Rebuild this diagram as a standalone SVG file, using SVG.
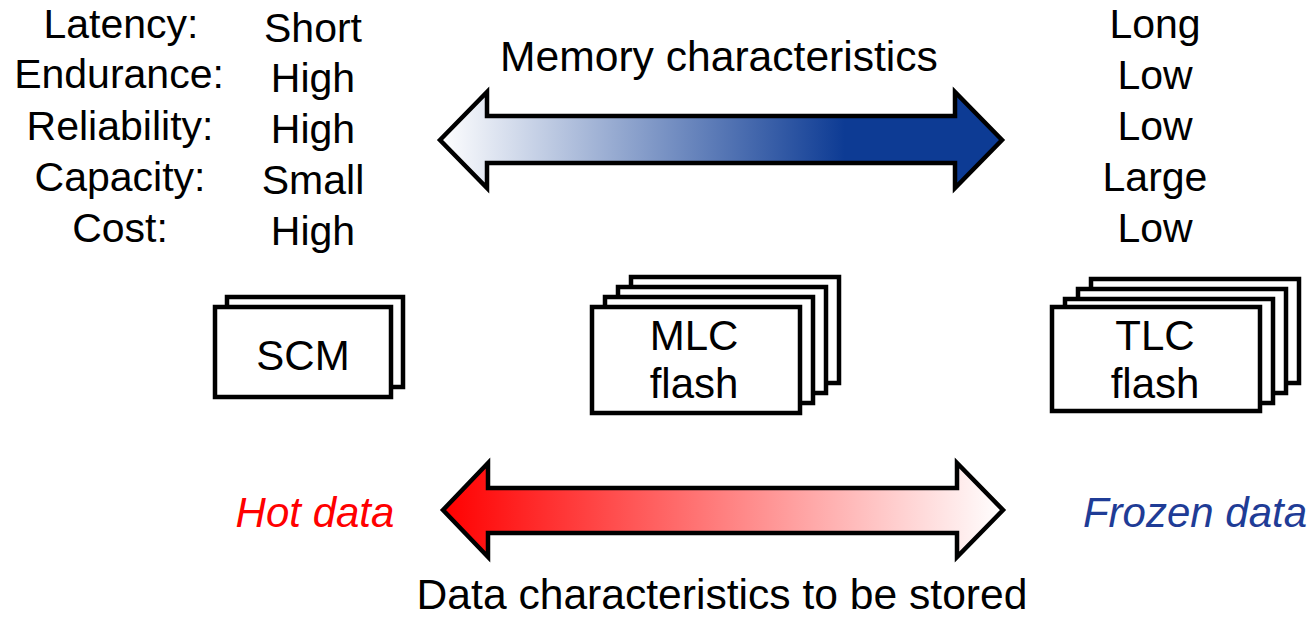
<svg xmlns="http://www.w3.org/2000/svg" width="1313" height="618" viewBox="0 0 1313 618">
<style>
text{font-family:"Liberation Sans",Arial,sans-serif;font-size:42px;fill:#000;text-anchor:middle}
.lab{font-size:41px}
.big{font-size:42.6px}
.it{font-style:italic}
.box{fill:#fff;stroke:#000;stroke-width:4.5;stroke-linejoin:miter}
.arr{stroke:#000;stroke-width:4.5;stroke-linejoin:miter}
</style>
<defs>
<linearGradient id="gBlue" gradientUnits="userSpaceOnUse" x1="440" y1="0" x2="1002" y2="0">
<stop offset="0" stop-color="#ffffff"/>
<stop offset="0.72" stop-color="#0D3B94"/>
<stop offset="1" stop-color="#0D3B94"/>
</linearGradient>
<linearGradient id="gRed" gradientUnits="userSpaceOnUse" x1="443" y1="0" x2="1003" y2="0">
<stop offset="0" stop-color="#FF0000"/>
<stop offset="1" stop-color="#FFFFFF"/>
</linearGradient>
</defs>
<rect width="1313" height="618" fill="#fff"/>

<g id="labels-left">
<text class="lab" x="121" y="38">Latency:</text>
<text class="lab" x="119" y="88">Endurance:</text>
<text class="lab" x="120" y="140">Reliability:</text>
<text class="lab" x="120" y="191">Capacity:</text>
<text class="lab" x="120" y="242">Cost:</text>
</g>
<g id="values-scm">
<text class="lab" x="313" y="42">Short</text>
<text class="lab" x="313" y="92">High</text>
<text class="lab" x="313" y="143">High</text>
<text class="lab" x="313" y="194">Small</text>
<text class="lab" x="313" y="245">High</text>
</g>
<g id="values-tlc">
<text class="lab" x="1155" y="38">Long</text>
<text class="lab" x="1155" y="89">Low</text>
<text class="lab" x="1155" y="140">Low</text>
<text class="lab" x="1155" y="191">Large</text>
<text class="lab" x="1155" y="242">Low</text>
</g>

<g id="connectors">
<g id="memory-arrow">
<polygon class="arr" fill="url(#gBlue)" points="440,140 487,92 487,116 955,116 955,92 1002,140 955,188 955,163 487,163 487,188"/>
<text class="big" x="719" y="71">Memory characteristics</text>
</g>
<g id="data-arrow">
<polygon class="arr" fill="url(#gRed)" points="443,510 488,463 488,488 957,488 957,463 1003,510 957,557 957,533 488,533 488,557"/>
<text class="big" x="722" y="609">Data characteristics to be stored</text>
</g>
</g>

<g id="scm">
<rect class="box" x="227" y="297" width="176" height="90"/>
<rect class="box" x="215" y="307" width="176" height="90"/>
<text x="303" y="370">SCM</text>
</g>

<g id="mlc">
<rect class="box" x="631" y="277" width="208" height="106"/>
<rect class="box" x="618" y="287" width="208" height="106"/>
<rect class="box" x="605" y="297" width="208" height="106"/>
<rect class="box" x="592" y="307" width="208" height="106"/>
<text x="694" y="350">MLC</text>
<text x="694" y="398">flash</text>
</g>

<g id="tlc">
<rect class="box" x="1091" y="279" width="208" height="104"/>
<rect class="box" x="1078" y="289" width="208" height="104"/>
<rect class="box" x="1065" y="299" width="208" height="104"/>
<rect class="box" x="1052" y="307" width="208" height="104"/>
<text x="1155" y="350">TLC</text>
<text x="1155" y="398">flash</text>
</g>

<g id="hot-data">
<text class="it" x="315" y="527" style="fill:#FF0000">Hot data</text>
</g>
<g id="frozen-data">
<text class="it" x="1195" y="527" style="fill:#1F3C96">Frozen data</text>
</g>
</svg>
